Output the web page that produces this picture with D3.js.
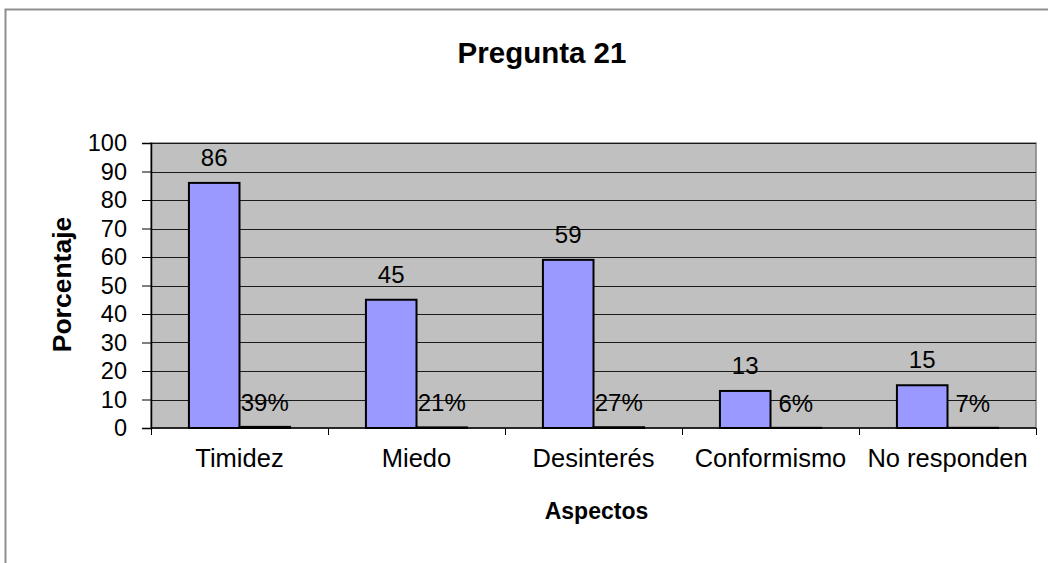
<!DOCTYPE html>
<html>
<head>
<meta charset="utf-8">
<script src="https://cdn.jsdelivr.net/npm/d3@7"></script>
<style>
  html, body { margin: 0; padding: 0; background: #fff; }
  svg { display: block; font-family: "Liberation Sans", Arial, sans-serif; }
</style>
</head>
<body>
<svg id="chart" width="1048" height="563"></svg>
<script>
// Pregunta 21 — respuestas por aspecto (valor absoluto y porcentaje)
const categories = ["Timidez", "Miedo", "Desinterés", "Conformismo", "No responden"];
const valores = [86, 45, 59, 13, 15];
const porcentajes = [0.39, 0.21, 0.27, 0.06, 0.07];
const yTicks = [0, 10, 20, 30, 40, 50, 60, 70, 80, 90, 100];
const seriesNames = ["valor", "porcentaje"];

const title = "Pregunta 21";
const yTitle = "Porcentaje";
const xTitle = "Aspectos";

const svg = d3.select("#chart");
const plot = { left: 151, right: 1036, top: 143, bottom: 428 };

// Outer chart frame (extends past the visible page on the right and bottom)
svg.append("rect")
  .attr("x", 5.5).attr("y", 9.5)
  .attr("width", 1120).attr("height", 620)
  .attr("fill", "#fff")
  .attr("stroke", "#8f8f8f")
  .attr("stroke-width", 2);

const x = d3.scaleBand().domain(categories).range([plot.left, plot.right]).paddingInner(0).paddingOuter(0);
const xs = d3.scaleBand().domain(seriesNames).range([0, x.bandwidth()]).paddingInner(0).paddingOuter(0.75);
const y = d3.scaleLinear().domain([0, 100]).range([plot.bottom, plot.top]);

// Plot area
svg.append("rect")
  .attr("x", plot.left).attr("y", plot.top)
  .attr("width", plot.right - plot.left).attr("height", plot.bottom - plot.top)
  .attr("fill", "#c0c0c0")
  .attr("stroke", "#808080")
  .attr("stroke-width", 1.5);

// Horizontal gridlines
svg.append("g").selectAll("line")
  .data(yTicks.filter(d => d > 0))
  .join("line")
  .attr("x1", plot.left).attr("x2", plot.right)
  .attr("y1", d => Math.round(y(d)) + 0.5).attr("y2", d => Math.round(y(d)) + 0.5)
  .attr("stroke", "#1a1a1a").attr("stroke-width", 1);

// Y axis
const yAxis = svg.append("g")
  .attr("transform", `translate(${plot.left},0)`)
  .call(d3.axisLeft(y).tickValues(yTicks).tickSize(9).tickPadding(15).tickFormat(d3.format("d")));
yAxis.select(".domain").attr("stroke", "#000").attr("stroke-width", 1.5);
yAxis.selectAll(".tick line").attr("stroke", "#000").attr("stroke-width", 1);
yAxis.selectAll(".tick text")
  .attr("font-family", "'Liberation Sans', Arial, sans-serif")
  .attr("font-size", 23.5).attr("fill", "#000");

// Bars: valores
const groups = svg.append("g").selectAll("g")
  .data(categories)
  .join("g")
  .attr("transform", d => `translate(${x(d)},0)`);

groups.append("rect")
  .attr("x", xs("valor"))
  .attr("y", (d, i) => y(valores[i]))
  .attr("width", xs.bandwidth())
  .attr("height", (d, i) => y(0) - y(valores[i]))
  .attr("fill", "#9999ff")
  .attr("stroke", "#000")
  .attr("stroke-width", 2);

// Bars: porcentajes (same value axis, so they sit almost flat on the baseline)
groups.append("rect")
  .attr("x", xs("porcentaje"))
  .attr("y", (d, i) => y(porcentajes[i]))
  .attr("width", xs.bandwidth())
  .attr("height", (d, i) => y(0) - y(porcentajes[i]))
  .attr("fill", "#993366")
  .attr("stroke", "#000")
  .attr("stroke-width", 2);

// Data labels
groups.append("text")
  .attr("x", xs("valor") + xs.bandwidth() / 2)
  .attr("y", (d, i) => y(valores[i]) - 17)
  .attr("text-anchor", "middle")
  .attr("font-size", 24)
  .text((d, i) => valores[i]);

groups.append("text")
  .attr("x", xs("porcentaje") + xs.bandwidth() / 2)
  .attr("y", (d, i) => y(porcentajes[i]) - 16)
  .attr("text-anchor", "middle")
  .attr("font-size", 24)
  .text((d, i) => d3.format(".0%")(porcentajes[i]));

// X axis line, boundary ticks and category labels
const xAxis = svg.append("g");
xAxis.append("line")
  .attr("x1", plot.left).attr("x2", plot.right)
  .attr("y1", plot.bottom).attr("y2", plot.bottom)
  .attr("stroke", "#000").attr("stroke-width", 1.5);
const bounds = categories.map(c => x(c)).concat([x(categories[categories.length - 1]) + x.bandwidth()]);
xAxis.selectAll("line.tick")
  .data(bounds)
  .join("line")
  .attr("class", "tick")
  .attr("x1", d => Math.round(d) + 0.5).attr("x2", d => Math.round(d) + 0.5)
  .attr("y1", plot.bottom).attr("y2", plot.bottom + 7)
  .attr("stroke", "#000").attr("stroke-width", 1);
xAxis.selectAll("text")
  .data(categories)
  .join("text")
  .attr("x", d => x(d) + x.bandwidth() / 2)
  .attr("y", 467)
  .attr("text-anchor", "middle")
  .attr("font-size", 25.5)
  .text(d => d);

// Titles
svg.append("text")
  .attr("x", 542).attr("y", 63)
  .attr("text-anchor", "middle")
  .attr("font-size", 29.5).attr("font-weight", "bold")
  .text(title);

svg.append("text")
  .attr("x", (plot.left + plot.right) / 2 + 3).attr("y", 519)
  .attr("text-anchor", "middle")
  .attr("font-size", 23).attr("font-weight", "bold")
  .text(xTitle);

svg.append("text")
  .attr("transform", `translate(71,${(plot.top + plot.bottom) / 2 - 1}) rotate(-90)`)
  .attr("text-anchor", "middle")
  .attr("font-size", 26.5).attr("font-weight", "bold")
  .text(yTitle);
</script>
</body>
</html>
